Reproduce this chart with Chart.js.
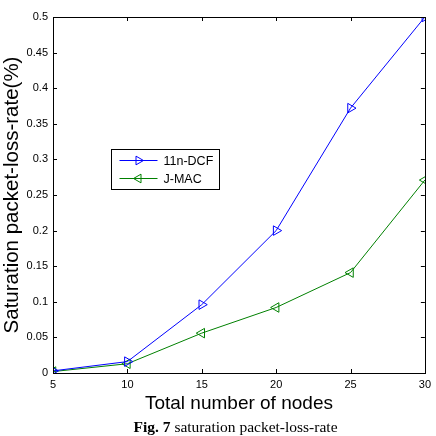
<!DOCTYPE html>
<html><head><meta charset="utf-8">
<script src="https://cdn.jsdelivr.net/npm/chart.js@4.4.0/dist/chart.umd.min.js"></script>
<style>html,body{margin:0;padding:0;background:#fff}#wrap{width:436px;height:436px;position:relative}</style>
</head><body><div id="wrap"><canvas id="c" width="436" height="436"></canvas></div>
<script>
const nodes = [5, 10, 15, 20, 25, 30];
const dcf = [0.003, 0.016, 0.096, 0.2, 0.372, 0.5];
const jmac = [0.002, 0.013, 0.056, 0.092, 0.141, 0.271];
const xTicks = [5, 10, 15, 20, 25, 30];
const yTicks = [0, 0.05, 0.1, 0.15, 0.2, 0.25, 0.3, 0.35, 0.4, 0.45, 0.5];
const seriesNames = ['11n-DCF', 'J-MAC'];

const frame = {
  id: 'frame',
  afterDraw(chart) {
    const ctx = chart.ctx, a = chart.chartArea;
    const xs = chart.scales.x, ys = chart.scales.y;
    ctx.save();
    ctx.strokeStyle = '#000'; ctx.lineWidth = 1;
    ctx.strokeRect(Math.round(a.left)+0.5, Math.round(a.top)+0.5, Math.round(a.right-a.left), Math.round(a.bottom-a.top));
    ctx.beginPath();
    const L = 4;
    xTicks.forEach(v => {
      const px = Math.round(xs.getPixelForValue(v)) + 0.5;
      ctx.moveTo(px, a.bottom); ctx.lineTo(px, a.bottom - L);
      ctx.moveTo(px, a.top); ctx.lineTo(px, a.top + L);
    });
    yTicks.forEach(v => {
      const py = Math.round(ys.getPixelForValue(v)) + 0.5;
      ctx.moveTo(a.left, py); ctx.lineTo(a.left + L, py);
      ctx.moveTo(a.right, py); ctx.lineTo(a.right - L, py);
    });
    ctx.stroke();
    // legend box
    const bx = 111.5, by = 149.5, bw = 108, bh = 40;
    ctx.fillStyle = '#fff';
    ctx.fillRect(bx, by, bw, bh);
    ctx.strokeRect(bx, by, bw, bh);
    chart.data.datasets.forEach((ds, i) => {
      const ly = by + 11 + i * 18;
      ctx.strokeStyle = ds.borderColor; ctx.lineWidth = 1;
      ctx.beginPath(); ctx.moveTo(bx + 8, ly); ctx.lineTo(bx + 46, ly); ctx.stroke();
      const cx = bx + 27, r = 5;
      ctx.beginPath();
      if (i === 0) { ctx.moveTo(cx + r, ly); ctx.lineTo(cx - r*0.5, ly - r*0.87); ctx.lineTo(cx - r*0.5, ly + r*0.87); }
      else { ctx.moveTo(cx - r, ly); ctx.lineTo(cx + r*0.5, ly - r*0.87); ctx.lineTo(cx + r*0.5, ly + r*0.87); }
      ctx.closePath(); ctx.stroke();
      ctx.fillStyle = '#000';
      ctx.font = '12.5px "Liberation Sans", Arial, sans-serif';
      ctx.textAlign = 'left'; ctx.textBaseline = 'middle';
      ctx.fillText(ds.label, bx + 52, ly + 1);
    });
    // caption
    ctx.fillStyle = '#000';
    ctx.textBaseline = 'alphabetic';
    const fs = 15.5;
    const p1 = 'Fig. 7';
    ctx.font = 'bold ' + fs + 'px "Liberation Serif", serif';
    const w1 = ctx.measureText(p1).width;
    ctx.font = fs + 'px "Liberation Serif", serif';
    const p2 = ' saturation packet-loss-rate';
    const w2 = ctx.measureText(p2).width;
    const sx = 235.5 - (w1 + w2) / 2;
    ctx.font = 'bold ' + fs + 'px "Liberation Serif", serif';
    ctx.textAlign = 'left';
    ctx.fillText(p1, sx, 432);
    ctx.font = fs + 'px "Liberation Serif", serif';
    ctx.fillText(p2, sx + w1, 432);
    ctx.restore();
  }
};

new Chart(document.getElementById('c'), {
  type: 'line',
  data: {
    datasets: [
      { label: seriesNames[0], data: nodes.map((x, i) => ({x, y: dcf[i]})), borderColor: '#0000ff', backgroundColor: 'rgba(0,0,0,0)', borderWidth: 1, pointStyle: 'triangle', rotation: 90, pointRadius: 5.5, pointBorderWidth: 1, pointBackgroundColor: 'rgba(0,0,0,0)', tension: 0 },
      { label: seriesNames[1], data: nodes.map((x, i) => ({x, y: jmac[i]})), borderColor: '#008000', backgroundColor: 'rgba(0,0,0,0)', borderWidth: 1, pointStyle: 'triangle', rotation: -90, pointRadius: 5.5, pointBorderWidth: 1, pointBackgroundColor: 'rgba(0,0,0,0)', tension: 0 }
    ]
  },
  options: {
    responsive: false, animation: false,
    layout: { padding: { left: 0, right: 10, top: 17, bottom: 21 } },
    plugins: { legend: { display: false }, tooltip: { enabled: false } },
    scales: {
      x: {
        type: 'linear', min: 5, max: 30,
        afterBuildTicks: s => { s.ticks = xTicks.map(v => ({value: v})); },
        afterFit: s => { s.height = 42; },
        grid: { display: false, drawTicks: false }, border: { display: false },
        ticks: { color: '#000', font: { size: 11, family: '"Liberation Sans", Arial, sans-serif' }, padding: 5, maxRotation: 0, callback: v => String(v) },
        title: { display: true, text: 'Total number of nodes', color: '#000', font: { size: 19, family: '"Liberation Sans", Arial, sans-serif' }, padding: { top: 0, bottom: 0 } }
      },
      y: {
        type: 'linear', min: 0, max: 0.5,
        afterBuildTicks: s => { s.ticks = yTicks.map(v => ({value: v})); },
        afterFit: s => { s.width = 53; },
        grid: { display: false, drawTicks: false }, border: { display: false },
        ticks: { color: '#000', font: { size: 11, family: '"Liberation Sans", Arial, sans-serif' }, padding: 5, callback: v => String(Math.round(v * 100) / 100) },
        title: { display: true, text: 'Saturation packet-loss-rate(%)', color: '#000', font: { size: 20.5, family: '"Liberation Sans", Arial, sans-serif' }, padding: { top: 0, bottom: 0 } }
      }
    }
  },
  plugins: [frame]
});
</script></body></html>
